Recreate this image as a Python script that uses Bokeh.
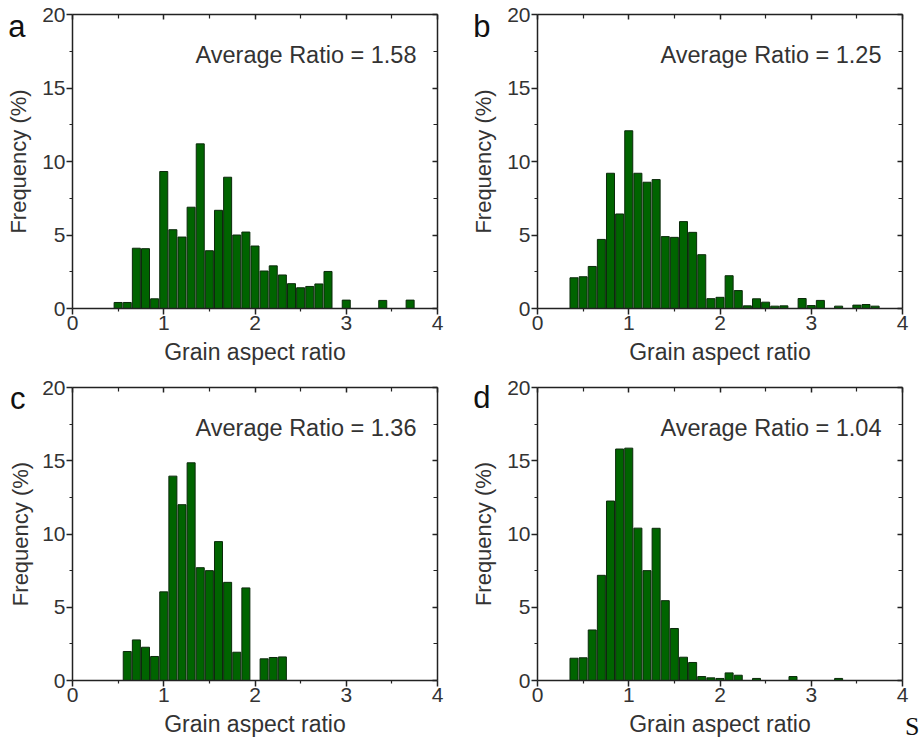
from bokeh.plotting import figure
from bokeh.layouts import gridplot
from bokeh.models import Range1d, LinearAxis, FixedTicker, Label, ColumnDataSource
from bokeh.embed import file_html
from bokeh.resources import INLINE

# ---------------- data ----------------
centers_a = [0.5, 0.6, 0.7, 0.8, 0.9, 1.0, 1.1, 1.2, 1.3, 1.4, 1.5, 1.6, 1.7, 1.8, 1.9,
             2.0, 2.1, 2.2, 2.3, 2.4, 2.5, 2.6, 2.7, 2.8, 3.0, 3.4, 3.7]
freq_a = [0.41, 0.41, 4.10, 4.07, 0.66, 9.32, 5.36, 4.86, 6.89, 11.2, 3.93, 6.68, 8.93, 5.00, 5.20,
          4.25, 2.55, 2.90, 2.28, 1.69, 1.41, 1.50, 1.67, 2.52, 0.57, 0.55, 0.57]

centers_b = [0.4, 0.5, 0.6, 0.7, 0.8, 0.9, 1.0, 1.1, 1.2, 1.3, 1.4, 1.5, 1.6, 1.7, 1.8, 1.9,
             2.0, 2.1, 2.2, 2.3, 2.4, 2.5, 2.6, 2.7, 2.9, 3.0, 3.1, 3.3, 3.5, 3.6, 3.7]
freq_b = [2.09, 2.16, 2.86, 4.70, 9.20, 6.43, 12.09, 9.20, 8.59, 8.77, 4.89, 4.84, 5.91, 5.18, 3.66, 0.67,
          0.76, 2.23, 1.22, 0.18, 0.66, 0.43, 0.16, 0.18, 0.68, 0.20, 0.55, 0.16, 0.23, 0.27, 0.16]

centers_c = [0.6, 0.7, 0.8, 0.9, 1.0, 1.1, 1.2, 1.3, 1.4, 1.5, 1.6, 1.7, 1.8, 1.9, 2.1, 2.2, 2.3]
freq_c = [1.98, 2.77, 2.27, 1.64, 6.05, 13.95, 12.0, 14.86, 7.70, 7.50, 9.48, 6.70, 1.93, 6.32,
          1.48, 1.57, 1.61]

centers_d = [0.4, 0.5, 0.6, 0.7, 0.8, 0.9, 1.0, 1.1, 1.2, 1.3, 1.4, 1.5, 1.6, 1.7, 1.8, 1.9,
             2.0, 2.1, 2.2, 2.4, 2.8, 3.3]
freq_d = [1.52, 1.55, 3.45, 7.18, 12.25, 15.80, 15.86, 10.40, 7.50, 10.39, 5.45, 3.55, 1.59, 1.23,
          0.27, 0.18, 0.14, 0.52, 0.36, 0.14, 0.27, 0.14]

average_labels = ["Average Ratio = 1.58", "Average Ratio = 1.25",
                  "Average Ratio = 1.36", "Average Ratio = 1.04"]
panel_letters = ["a", "b", "c", "d"]
corner_mark = "S"

x_major = [0, 1, 2, 3, 4]
x_minor = [0.5, 1.5, 2.5, 3.5]
y_major = [0, 5, 10, 15, 20]
y_minor = [2.5, 7.5, 12.5, 17.5]

x_title = "Grain aspect ratio"
y_title = "Frequency (%)"

# ---------------- style ----------------
FONT = "Liberation Sans"
TXT = "#333333"
AX = "#222222"
BAR_FILL = "#006400"
BAR_LINE = "#0b2a0b"


def style_axis(ax, tick_in, tick_out, show_labels):
    ax.axis_line_color = AX
    ax.axis_line_width = 1.5
    ax.major_tick_line_color = AX
    ax.minor_tick_line_color = AX
    ax.major_tick_line_width = 1.5
    ax.minor_tick_line_width = 1.2
    ax.major_tick_in = tick_in[0]
    ax.major_tick_out = tick_out[0]
    ax.minor_tick_in = tick_in[1]
    ax.minor_tick_out = tick_out[1]
    if show_labels:
        ax.major_label_text_font = FONT
        ax.major_label_text_font_size = "21px"
        ax.major_label_text_color = TXT
        ax.major_label_standoff = 1
        ax.axis_label_text_font = FONT
        ax.axis_label_text_font_size = "23px"
        ax.axis_label_text_font_style = "normal"
        ax.axis_label_text_color = TXT
    else:
        ax.major_label_text_font_size = "1px"
        ax.major_label_text_color = None
        ax.major_label_text_alpha = 0
        ax.major_label_standoff = 0


def bare_axis(ax):
    ax.axis_line_color = None
    ax.major_tick_line_color = None
    ax.minor_tick_line_color = None
    ax.major_tick_in = 0
    ax.major_tick_out = 0
    ax.minor_tick_in = 0
    ax.minor_tick_out = 0


def make_panel(centers, freqs, avg_text, letter, letter_y, fh, mb_right, mb_top, mb_bottom,
               show_s=False):
    p = figure(frame_width=365, frame_height=fh,
               x_range=Range1d(0, 4), y_range=Range1d(0, 20),
               output_backend="svg", toolbar_location=None,
               min_border_left=72, min_border_right=mb_right,
               min_border_top=mb_top, min_border_bottom=mb_bottom,
               x_axis_label=x_title)
    p.background_fill_color = "white"
    p.border_fill_color = "white"
    p.outline_line_color = None
    p.xgrid.visible = False
    p.ygrid.visible = False

    p.xaxis[0].ticker = FixedTicker(ticks=x_major, minor_ticks=x_minor)
    p.yaxis[0].ticker = FixedTicker(ticks=y_major, minor_ticks=y_minor)
    style_axis(p.xaxis[0], (0, 0), (6, 3), True)
    style_axis(p.yaxis[0], (0, 0), (6, 3), True)
    p.xaxis[0].axis_label_standoff = 6

    top = LinearAxis(ticker=FixedTicker(ticks=x_major, minor_ticks=x_minor))
    right = LinearAxis(ticker=FixedTicker(ticks=y_major, minor_ticks=y_minor))
    style_axis(top, (5, 4), (0, 0), False)
    style_axis(right, (5, 4), (0, 0), False)
    p.add_layout(top, "above")
    p.add_layout(right, "right")

    # outer left axis: carries the panel letter (as its only tick label) and the y title
    outer = LinearAxis(ticker=FixedTicker(ticks=[letter_y], minor_ticks=[]),
                       major_label_overrides={letter_y: letter},
                       axis_label=y_title)
    bare_axis(outer)
    outer.major_label_text_font = FONT
    outer.major_label_text_font_size = "31px"
    outer.major_label_text_color = "#111111"
    outer.major_label_standoff = 14
    outer.axis_label_text_font = FONT
    outer.axis_label_text_font_size = "22px"
    outer.axis_label_text_font_style = "normal"
    outer.axis_label_text_color = TXT
    outer.axis_label_standoff = -26
    p.add_layout(outer, "left")

    src = ColumnDataSource(dict(x=centers, top=freqs))
    p.vbar(x="x", top="top", bottom=0, width=0.088, source=src,
           fill_color=BAR_FILL, line_color=BAR_LINE, line_width=1)

    p.add_layout(Label(x=3.77, y=17.25, text=avg_text, text_align="right",
                       text_baseline="middle", text_font=FONT, text_font_size="23.5px",
                       text_color=TXT))

    if show_s:
        smark = LinearAxis(ticker=FixedTicker(ticks=[4], minor_ticks=[]),
                           major_label_overrides={4: "\u00a0\u00a0\u00a0" + corner_mark})
        bare_axis(smark)
        smark.major_label_text_font = "Liberation Serif"
        smark.major_label_text_font_size = "26px"
        smark.major_label_text_color = "#111111"
        smark.major_label_standoff = -28
        p.add_layout(smark, "below")
    return p


pa = make_panel(centers_a, freq_a, average_labels[0], panel_letters[0], 19.2, 294, 28, 14, 62)
pb = make_panel(centers_b, freq_b, average_labels[1], panel_letters[1], 19.2, 294, 19, 14, 62)
pc = make_panel(centers_c, freq_c, average_labels[2], panel_letters[2], 19.25, 293, 28, 17, 57)
pd = make_panel(centers_d, freq_d, average_labels[3], panel_letters[3], 19.3, 293, 19, 17, 57,
                show_s=True)

grid = gridplot([[pa, pb], [pc, pd]], toolbar_location=None)

open("out.html", "w").write(file_html(grid, INLINE))
